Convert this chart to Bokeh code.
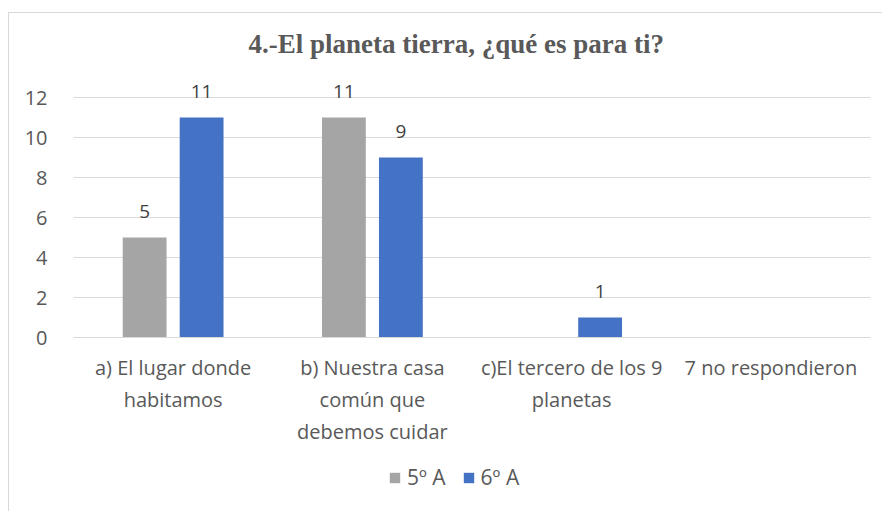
from bokeh.plotting import figure
from bokeh.models import ColumnDataSource, FactorRange, Legend, LegendItem, LabelSet
from bokeh.core.properties import value
from bokeh.transform import dodge
from bokeh.embed import file_html
from bokeh.resources import INLINE

categories = ["a) El lugar donde\nhabitamos", "b) Nuestra casa\ncomún que\ndebemos cuidar",
              "c)El tercero de los 9\nplanetas", "7 no respondieron"]
series_names = ["5º A", "6º A"]
values_5a = [5, 11, 0, 0]
values_6a = [11, 9, 1, 0]
colors = ["#A5A5A5", "#4472C4"]
y_ticks = [0, 2, 4, 6, 8, 10, 12]
title_text = "4.-El planeta tierra, ¿qué es para ti?"

src = ColumnDataSource(dict(cat=categories, a=values_5a, b=values_6a))
lab_a = ColumnDataSource(dict(cat=[c for c, v in zip(categories, values_5a) if v],
                              v=[v for v in values_5a if v], t=[str(v) for v in values_5a if v]))
lab_b = ColumnDataSource(dict(cat=[c for c, v in zip(categories, values_6a) if v],
                              v=[v for v in values_6a if v], t=[str(v) for v in values_6a if v]))

p = figure(x_range=FactorRange(*categories, range_padding=0), y_range=(-8.7, 13.5),
           frame_width=797, frame_height=444, output_backend="svg", toolbar_location=None,
           min_border_left=64, min_border_right=12, min_border_top=54, min_border_bottom=0)
p.styles = {"border-left": "1px solid #d9d9d9", "border-top": "1px solid #d9d9d9",
            "margin-left": "8px", "margin-top": "12px"}

p.title.text = title_text
p.title.align = "left"
p.title.text_font = "Liberation Serif"
p.title.text_font_style = "bold"
p.title.text_font_size = "27px"
p.title.text_color = "#595959"
p.title.offset = 175
p.title.standoff = 17

r1 = p.vbar(x=dodge("cat", -0.143, range=p.x_range), top="a", width=0.22, source=src,
            color=colors[0], line_color=None)
r2 = p.vbar(x=dodge("cat", 0.143, range=p.x_range), top="b", width=0.22, source=src,
            color=colors[1], line_color=None)

for s, off in ((lab_a, -0.143), (lab_b, 0.143)):
    p.add_layout(LabelSet(x=dodge("cat", off, range=p.x_range), y="v", text="t", source=s,
                          text_align="center", text_baseline="bottom", y_offset=20,
                          text_font=value("Open Sans"), text_font_size="19px",
                          text_color="#404040"))

p.outline_line_color = None
p.xgrid.grid_line_color = None
p.ygrid.grid_line_color = "#d9d9d9"
p.ygrid.grid_line_width = 1
p.yaxis.ticker = y_ticks
p.yaxis.axis_line_color = None
p.yaxis.major_tick_line_color = None
p.yaxis.minor_tick_line_color = None
p.yaxis.major_label_text_font = "Open Sans"
p.yaxis.major_label_text_font_size = "20px"
p.yaxis.major_label_text_color = "#595959"
p.yaxis.major_label_standoff = 20
p.xaxis.fixed_location = 0
p.xaxis.axis_line_color = "#d9d9d9"
p.xaxis.major_tick_line_color = None
p.xaxis.minor_tick_line_color = None
p.xaxis.major_label_text_font = "Open Sans"
p.xaxis.major_label_text_font_size = "20px"
p.xaxis.major_label_text_color = "#595959"
p.xaxis.major_label_standoff = 10

legend = Legend(items=[LegendItem(label=series_names[0], renderers=[r1]),
                       LegendItem(label=series_names[1], renderers=[r2])],
                orientation="horizontal", location=(315, 20),
                label_text_font="Open Sans", label_text_font_size="21px",
                label_text_color="#595959", glyph_width=13, glyph_height=13,
                border_line_color=None, background_fill_alpha=0, spacing=16,
                margin=0, padding=4, label_standoff=6)
p.add_layout(legend, "center")

open("out.html", "w").write(file_html(p, INLINE))
